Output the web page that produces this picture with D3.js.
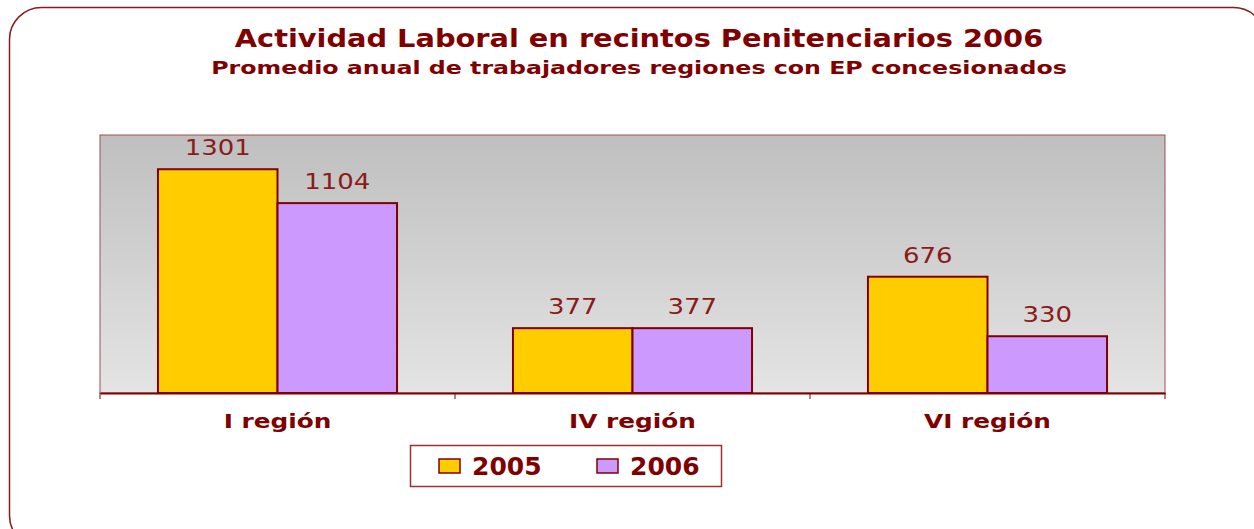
<!DOCTYPE html>
<html><head><meta charset="utf-8">
<script src="https://cdn.jsdelivr.net/npm/d3@7/dist/d3.min.js"></script>
<style>body{margin:0;background:#fff;} svg{display:block;}</style>
</head><body>
<svg id="c" width="1254" height="529"></svg>
<script>
const categories = ["I región", "IV región", "VI región"];
const seriesNames = ["2005", "2006"];
const values2005 = [1301, 377, 676];
const values2006 = [1104, 377, 330];
const colors = ["#FFCC00", "#CC99FF"];
const title = "Actividad Laboral en recintos Penitenciarios 2006";
const subtitle = "Promedio anual de trabajadores regiones con EP concesionados";

(function () {
const dark = "#800000";
const svg = d3.select("#c");
const font = "'DejaVu Sans', Verdana, sans-serif";

// horizontally widen text to mimic the wide original typeface
function widen(sel, k) {
  sel.each(function () {
    const w = this.getComputedTextLength();
    d3.select(this).attr("textLength", w * k).attr("lengthAdjust", "spacingAndGlyphs");
  });
}

svg.append("rect").attr("x", 9.5).attr("y", 7.5).attr("width", 1256).attr("height", 540)
  .attr("rx", 32).attr("fill", "none").attr("stroke", "#8B1A1A").attr("stroke-width", 1.5);

svg.append("text").attr("x", 639).attr("y", 47).attr("text-anchor", "middle")
  .attr("font-family", font).attr("font-weight", "bold").attr("font-size", 24)
  .attr("fill", dark).text(title).call(widen, 1.2);
svg.append("text").attr("x", 639).attr("y", 74).attr("text-anchor", "middle")
  .attr("font-family", font).attr("font-weight", "bold").attr("font-size", 18.5)
  .attr("fill", dark).text(subtitle).call(widen, 1.28);

const pL = 100, pR = 1165, pT = 135, pB = 393;
const defs = svg.append("defs");
const g = defs.append("linearGradient").attr("id", "bg").attr("x1", 0).attr("y1", 0).attr("x2", 0).attr("y2", 1);
g.append("stop").attr("offset", "0%").attr("stop-color", "#bfbfbf");
g.append("stop").attr("offset", "100%").attr("stop-color", "#e4e4e4");

svg.append("rect").attr("x", pL).attr("y", pT).attr("width", pR - pL).attr("height", pB - pT)
  .attr("fill", "url(#bg)").attr("stroke", "#a05050").attr("stroke-width", 1);

const x0 = d3.scaleBand().domain(categories).range([pL, pR]).paddingInner(0).paddingOuter(0);
const x1 = d3.scaleBand().domain(seriesNames).range([0, x0.bandwidth()]).paddingInner(0).paddingOuter(0.485);
const y = d3.scaleLinear().domain([0, 1500]).range([pB, pT]);
const color = d3.scaleOrdinal().domain(seriesNames).range(colors);

const data = categories.map((c, i) => ({cat: c, vals: [
  {s: seriesNames[0], v: values2005[i]}, {s: seriesNames[1], v: values2006[i]}]}));

const groups = svg.append("g").selectAll("g").data(data).join("g")
  .attr("transform", d => `translate(${x0(d.cat)},0)`);
groups.selectAll("rect").data(d => d.vals).join("rect")
  .attr("x", d => x1(d.s)).attr("y", d => y(d.v))
  .attr("width", x1.bandwidth()).attr("height", d => y(0) - y(d.v))
  .attr("fill", d => color(d.s)).attr("stroke", dark).attr("stroke-width", 2);
groups.selectAll("text").data(d => d.vals).join("text")
  .attr("x", d => x1(d.s) + x1.bandwidth() / 2).attr("y", d => y(d.v) - 14)
  .attr("text-anchor", "middle").attr("font-family", font).attr("font-size", 22)
  .attr("fill", "#8B1A1A").text(d => d.v).call(widen, 1.18);

const xAxis = d3.axisBottom(x0).tickSizeInner(0).tickSizeOuter(0).tickPadding(21);
const ax = svg.append("g").attr("transform", `translate(0,${pB})`).call(xAxis);
ax.select(".domain").attr("stroke", dark).attr("stroke-width", 2);
ax.selectAll("text").attr("font-family", font).attr("font-weight", "bold").attr("font-size", 19.5)
  .attr("fill", dark).call(widen, 1.27);
ax.selectAll(".tick line").remove();
const bounds = categories.map(c => x0(c)).concat([pR]);
svg.append("g").selectAll("line").data(bounds).join("line")
  .attr("x1", d => d).attr("x2", d => d).attr("y1", pB).attr("y2", pB + 6)
  .attr("stroke", dark).attr("stroke-width", 1);

const lg = svg.append("g");
lg.append("rect").attr("x", 410.5).attr("y", 445.5).attr("width", 311).attr("height", 41)
  .attr("fill", "#fff").attr("stroke", "#a03030").attr("stroke-width", 1.5);
const legX = [439, 597];
seriesNames.forEach((s, i) => {
  lg.append("rect").attr("x", legX[i]).attr("y", 459).attr("width", 21).attr("height", 14)
    .attr("fill", colors[i]).attr("stroke", dark).attr("stroke-width", 1.5);
  lg.append("text").attr("x", legX[i] + 33).attr("y", 475).attr("font-family", font)
    .attr("font-weight", "bold").attr("font-size", 25).attr("fill", dark).text(s);
});
})();
</script>
</body></html>
